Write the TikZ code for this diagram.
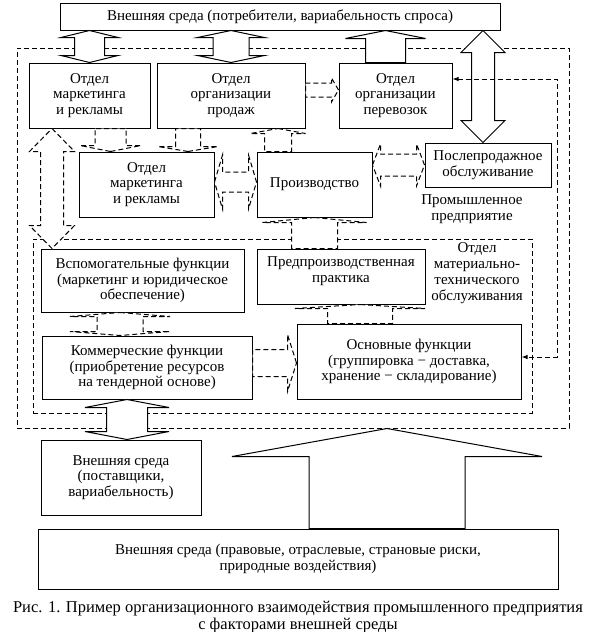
\documentclass[tikz,border=0pt]{standalone}
\usepackage{fontspec}
\setmainfont{Liberation Serif}
\usetikzlibrary{arrows.meta,calc}

% hollow block arrows: [style]{tip}{tail or second tip}{shaft half}{head half}{head length}
\newcommand{\varrow}[6][]{%
  \draw[blockarrow,#1] let \p1=#2, \p2=#3, \n1={sign(\y2-\y1)} in
    (\p1) -- ({\x1+#5pt},{\y1+(\n1)*#6pt}) -- ({\x1+#4pt},{\y1+(\n1)*#6pt})
    -- ({\x1+#4pt},\y2) -- ({\x1-#4pt},\y2) -- ({\x1-#4pt},{\y1+(\n1)*#6pt})
    -- ({\x1-#5pt},{\y1+(\n1)*#6pt}) -- cycle;}
\newcommand{\vdarrow}[6][]{%
  \draw[blockarrow,#1] let \p1=#2, \p2=#3, \n1={sign(\y2-\y1)} in
    (\p1) -- ({\x1+#5pt},{\y1+(\n1)*#6pt}) -- ({\x1+#4pt},{\y1+(\n1)*#6pt})
    -- ({\x1+#4pt},{\y2-(\n1)*#6pt}) -- ({\x1+#5pt},{\y2-(\n1)*#6pt}) -- (\x1,\y2)
    -- ({\x1-#5pt},{\y2-(\n1)*#6pt}) -- ({\x1-#4pt},{\y2-(\n1)*#6pt})
    -- ({\x1-#4pt},{\y1+(\n1)*#6pt}) -- ({\x1-#5pt},{\y1+(\n1)*#6pt}) -- cycle;}
\newcommand{\harrow}[6][]{%
  \draw[blockarrow,#1] let \p1=#2, \p2=#3, \n1={sign(\x2-\x1)} in
    (\p1) -- ({\x1+(\n1)*#6pt},{\y1+#5pt}) -- ({\x1+(\n1)*#6pt},{\y1+#4pt})
    -- (\x2,{\y1+#4pt}) -- (\x2,{\y1-#4pt}) -- ({\x1+(\n1)*#6pt},{\y1-#4pt})
    -- ({\x1+(\n1)*#6pt},{\y1-#5pt}) -- cycle;}
\newcommand{\hdarrow}[6][]{%
  \draw[blockarrow,#1] let \p1=#2, \p2=#3, \n1={sign(\x2-\x1)} in
    (\p1) -- ({\x1+(\n1)*#6pt},{\y1+#5pt}) -- ({\x1+(\n1)*#6pt},{\y1+#4pt})
    -- ({\x2-(\n1)*#6pt},{\y1+#4pt}) -- ({\x2-(\n1)*#6pt},{\y1+#5pt}) -- (\x2,\y1)
    -- ({\x2-(\n1)*#6pt},{\y1-#5pt}) -- ({\x2-(\n1)*#6pt},{\y1-#4pt})
    -- ({\x1+(\n1)*#6pt},{\y1-#4pt}) -- ({\x1+(\n1)*#6pt},{\y1-#5pt}) -- cycle;}

\begin{document}
\begin{tikzpicture}[x=1pt,y=-1pt,
  box/.style={draw,line width=1pt,align=center,inner sep=0pt,font=\fontsize{15}{15.8}\selectfont},
  lbl/.style={align=center,inner sep=0pt,font=\fontsize{15}{15.8}\selectfont},
  dashline/.style={dash pattern=on 5pt off 3pt,line width=1pt},
  blockarrow/.style={draw,fill=white,line width=1pt}]
\useasboundingbox (0,0) rectangle (595,632);

% dashed frames
\node[draw,dashline,minimum width=552pt,minimum height=380pt] (plant) at (293,238) {};
\node[draw,dashline,minimum width=499pt,minimum height=174pt] (mto) at (282.5,326) {};

% boxes
\node[box,minimum width=440pt,minimum height=27pt] (envtop) at (280,16.5)
  {Внешняя среда (потребители, вариабельность спроса)};
\node[box,minimum width=121pt,minimum height=65pt] (mark1) at (89.5,95.5)
  {Отдел\\маркетинга\\и рекламы};
\node[box,minimum width=148pt,minimum height=65pt] (sales) at (231,95.5)
  {Отдел\\организации\\продаж};
\node[box,minimum width=113pt,minimum height=65pt] (transp) at (395.5,95.5)
  {Отдел\\организации\\перевозок};
\node[box,minimum width=135pt,minimum height=65pt] (mark2) at (146.5,184.5)
  {Отдел\\маркетинга\\и рекламы};
\node[box,minimum width=115pt,minimum height=65pt] (prod) at (314.5,184.5)
  {Производство};
\node[box,minimum width=126pt,minimum height=44pt] (after) at (488,165)
  {Послепродажное\\обслуживание};
\node[box,minimum width=203pt,minimum height=63pt] (aux) at (142.5,280.5)
  {Вспомогательные функции\\(маркетинг и юридическое\\обеспечение)};
\node[box,minimum width=168pt,minimum height=55pt,
  label={[lbl,yshift=5.5pt]center:Предпроизводственная\\практика}] (prep) at (341,276.5) {};
\node[box,minimum width=210pt,minimum height=63pt] (comm) at (147,367.5)
  {Коммерческие функции\\(приобретение ресурсов\\на тендерной основе)};
\node[box,minimum width=224pt,minimum height=75pt] (core) at (409,361.5)
  {Основные функции\\(группировка − доставка,\\хранение − складирование)};
\node[box,minimum width=160pt,minimum height=75pt] (supp) at (121,477.5)
  {Внешняя среда\\(поставщики,\\вариабельность)};
\node[box,minimum width=520pt,minimum height=60pt] (envbot) at (298,559)
  {Внешняя среда (правовые, отраслевые, страновые риски,\\природные воздействия)};

% labels
\node[lbl] (lblplant) at (472,209) {Промышленное\\предприятие};
\node[lbl] (lblmto) at (477,273) {Отдел\\материально-\\технического\\обслуживания};
\node[lbl] (lbllaw) at (387,478) {Законодательные\\изменения};
\node[align=center,inner sep=0pt,font=\fontsize{16.5}{17}\selectfont] (caption) at (298,617)
  {Рис. 1. Пример организационного взаимодействия промышленного предприятия\\с факторами внешней среды};

% solid block arrows
\vdarrow{(mark1.north |- envtop.south)}{(mark1.north)}{15}{28.5}{7}
\vdarrow{(sales.north |- envtop.south)}{(sales.north)}{18}{33.5}{7}
\varrow{([xshift=-10pt]transp.north |- envtop.south)}{(transp.north)}{20}{40}{8}
\vdarrow{([xshift=-5pt]after.north |- envtop.south)}{([xshift=-5pt]after.north)}{11.5}{22}{22}
\vdarrow{([xshift=-20pt]comm.south)}{(supp.north)}{20.5}{42}{8}
\varrow{(lbllaw |- plant.south)}{(envbot.north)}{78}{155}{28}

% dashed block arrows
\varrow[dashline]{([xshift=-36pt]mark2.north)}{(mark1.south)}{15.5}{30.5}{6}
\varrow[dashline]{([xshift=41.5pt]mark2.north)}{(sales.south)}{12.5}{30}{5}
\varrow[dashline]{([xshift=-36.5pt]prod.north |- sales.south)}{(prod.north)}{13.5}{27.5}{5}
\harrow[dashline]{([yshift=5.5pt]transp.west)}{(sales.east)}{7}{12}{7}
\hdarrow[dashline]{([yshift=2.5pt]mark2.east)}{(prod.west)}{10}{27}{8}
\hdarrow[dashline]{(prod.east |- after.west)}{(after.west)}{11}{21}{8}
\vdarrow[dashline]{([xshift=-37.5pt]mark1.south)}{(aux.north)}{11.5}{22.5}{23}
\vdarrow[dashline]{([xshift=-22.5pt]aux.south)}{(comm.north)}{23}{50}{4}
\harrow[dashline]{([yshift=-1.5pt]core.west)}{(comm.east)}{13.5}{28.5}{9}
\varrow[dashline]{([xshift=19pt]prep.south)}{(core.north)}{32.5}{65}{4}
\varrow[dashline]{(prod.south)}{(prep.north)}{23}{52}{5}

% link from core functions to transport department
\coordinate (rt) at (557,79);
\coordinate (rb) at (557,357);
\draw[dashline,{Latex[length=6pt,width=4.5pt]}-{Latex[length=6pt,width=4.5pt]}]
  (transp.east |- rt) -- (rt) -- (rb) -- (core.east |- rb);
\end{tikzpicture}
\end{document}
